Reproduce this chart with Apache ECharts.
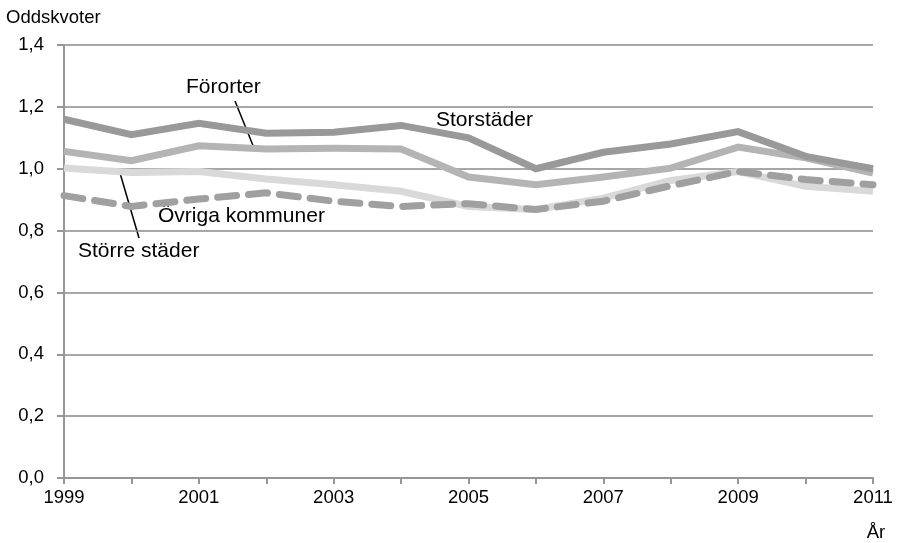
<!DOCTYPE html>
<html>
<head>
<meta charset="utf-8">
<script src="https://cdn.jsdelivr.net/npm/echarts@6/dist/echarts.min.js"></script>
<style>
  html, body { margin: 0; padding: 0; background: #fff; }
  #main { width: 909px; height: 543px; }
</style>
</head>
<body>
<div id="main"></div>
<script>
const years = ['1999', '2000', '2001', '2002', '2003', '2004', '2005', '2006', '2007', '2008', '2009', '2010', '2011']
const storstader = [1.16, 1.11, 1.147, 1.115, 1.118, 1.14, 1.10, 1.0, 1.053, 1.08, 1.12, 1.04, 1.0]
const fororter = [1.056, 1.026, 1.074, 1.064, 1.066, 1.064, 0.973, 0.948, 0.973, 1.002, 1.07, 1.035, 0.986]
const storreStader = [1.002, 0.988, 0.991, 0.967, 0.948, 0.927, 0.878, 0.868, 0.905, 0.962, 0.991, 0.943, 0.927]
const ovriga = [0.913, 0.878, 0.902, 0.922, 0.895, 0.878, 0.887, 0.868, 0.895, 0.945, 0.991, 0.965, 0.948]

const font = 'Liberation Sans, Arial, sans-serif'
const fs = 18.5
const noteFont = '21px ' + font
const chartDom = document.getElementById('main')
const myChart = echarts.init(chartDom)

const lineSeries = (name, data, color, dashed) => ({
  name: name,
  type: 'line',
  data: data,
  symbol: 'none',
  animation: false,
  lineStyle: {
    color: color,
    width: 7,
    type: dashed ? [19, 12] : 'solid',
    cap: dashed ? 'round' : 'butt',
    join: 'miter'
  }
})

const option = {
  animation: false,
  grid: { left: 64, right: 36, top: 45, bottom: 65 },
  xAxis: {
    type: 'category',
    data: years,
    boundaryGap: false,
    axisLine: { lineStyle: { color: '#969696', width: 2 } },
    axisTick: { show: true, interval: 0, length: 6, lineStyle: { color: '#969696', width: 2 } },
    axisLabel: { interval: 1, color: '#000', fontFamily: font, fontSize: fs, margin: 10 },
    name: 'År',
    nameLocation: 'end',
    nameGap: 0,
    nameTextStyle: { color: '#000', fontFamily: font, fontSize: fs, verticalAlign: 'top', align: 'center', padding: [45, 0, 0, 6] }
  },
  yAxis: {
    type: 'value',
    min: 0,
    max: 1.4,
    interval: 0.2,
    axisLine: { show: true, lineStyle: { color: '#969696', width: 2 } },
    axisTick: { show: true, length: 7, inside: false, lineStyle: { color: '#969696', width: 2 } },
    splitLine: { show: true, lineStyle: { color: '#8a8a8a', width: 1.5 } },
    axisLabel: {
      color: '#000', fontFamily: font, fontSize: fs, margin: 20,
      formatter: v => v.toFixed(1).replace('.', ',')
    },
    name: 'Oddskvoter',
    nameLocation: 'end',
    nameGap: 18,
    nameTextStyle: { color: '#000', fontFamily: font, fontSize: fs, align: 'left', padding: [0, 0, 0, -58] }
  },
  series: [
    lineSeries('Större städer', storreStader, '#d9d9d9', false),
    lineSeries('Övriga kommuner', ovriga, '#a0a0a0', true),
    lineSeries('Förorter', fororter, '#b4b4b4', false),
    lineSeries('Storstäder', storstader, '#999999', false)
  ],
  graphic: [
    { type: 'text', left: 186, top: 77, style: { text: 'Förorter', font: noteFont, fill: '#000' } },
    { type: 'line', shape: { x1: 235, y1: 101, x2: 254, y2: 148 }, style: { stroke: '#000', lineWidth: 1.5 } },
    { type: 'text', left: 436, top: 110, style: { text: 'Storstäder', font: noteFont, fill: '#000' } },
    { type: 'text', left: 158, top: 206, style: { text: 'Övriga kommuner', font: noteFont, fill: '#000' } },
    { type: 'line', shape: { x1: 120, y1: 173, x2: 139, y2: 238 }, style: { stroke: '#000', lineWidth: 1.5 } },
    { type: 'text', left: 78, top: 241, style: { text: 'Större städer', font: noteFont, fill: '#000' } }
  ]
}
option && myChart.setOption(option)
</script>
</body>
</html>
